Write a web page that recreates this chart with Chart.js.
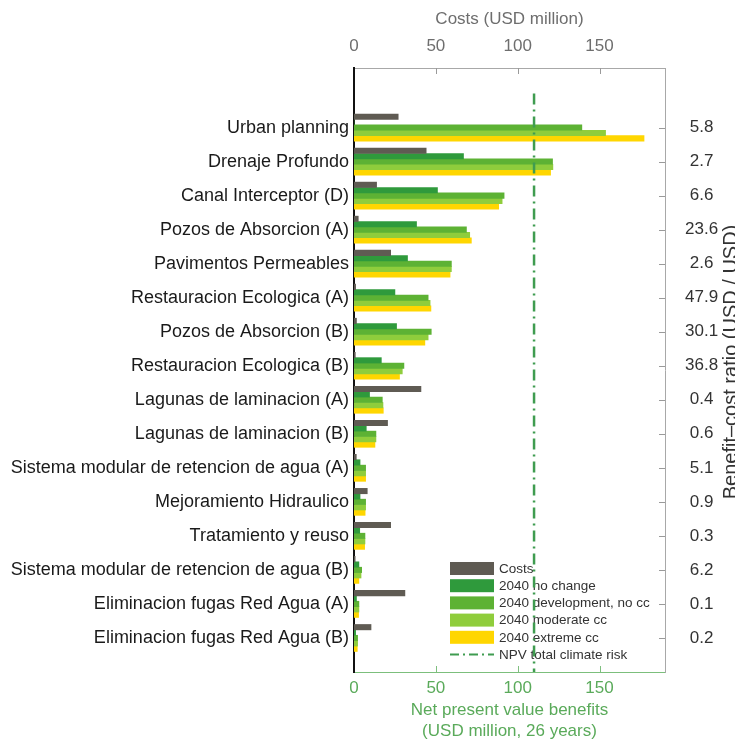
<!DOCTYPE html>
<html>
<head>
<meta charset="utf-8">
<script src="https://cdn.jsdelivr.net/npm/chart.js@4.4.0/dist/chart.umd.min.js"></script>
<style>
  html, body { margin: 0; padding: 0; background: #ffffff; }
  #wrap { width: 735px; height: 740px; position: relative; }
</style>
</head>
<body>
<div id="wrap"><canvas id="c" width="735" height="740"></canvas></div>
<script>
// ---------------- data ----------------
const categories = [
  'Urban planning',
  'Drenaje Profundo',
  'Canal Interceptor (D)',
  'Pozos de Absorcion (A)',
  'Pavimentos Permeables',
  'Restauracion Ecologica (A)',
  'Pozos de Absorcion (B)',
  'Restauracion Ecologica (B)',
  'Lagunas de laminacion (A)',
  'Lagunas de laminacion (B)',
  'Sistema modular de retencion de agua (A)',
  'Mejoramiento Hidraulico',
  'Tratamiento y reuso',
  'Sistema modular de retencion de agua (B)',
  'Eliminacion fugas Red Agua (A)',
  'Eliminacion fugas Red Agua (B)'
];
const costs        = [27.0, 44.1, 13.8, 2.6, 22.4, 1.0, 1.5, 0.8, 40.9, 20.5, 1.4, 8.1, 22.4, 0.7, 31.1, 10.4];
const noChange     = [0.0, 66.9, 51.0, 38.2, 32.7, 25.0, 26.0, 16.7, 9.5, 7.5, 3.7, 3.7, 3.5, 3.0, 1.5, 1.0];
const development  = [139.2, 121.3, 91.7, 68.7, 59.5, 45.3, 47.2, 30.5, 17.3, 13.4, 7.1, 7.1, 6.7, 4.7, 3.0, 2.2];
const moderateCC   = [153.7, 121.5, 90.5, 70.7, 59.5, 46.5, 45.3, 29.5, 17.7, 13.4, 7.1, 7.1, 6.7, 4.3, 3.0, 2.2];
const extremeCC    = [177.2, 120.1, 88.4, 71.7, 58.7, 47.0, 43.3, 27.8, 17.9, 12.8, 7.1, 6.8, 6.5, 3.0, 2.8, 2.0];
const bcRatio      = ['5.8','2.7','6.6','23.6','2.6','47.9','30.1','36.8','0.4','0.6','5.1','0.9','0.3','6.2','0.1','0.2'];
const npvTotalClimateRisk = 110;
const xTicks = [0, 50, 100, 150];
const seriesNames = ['Costs', '2040 no change', '2040 development, no cc', '2040 moderate cc', '2040 extreme cc'];
const npvName = 'NPV total climate risk';

// ---------------- styles ----------------
const FONT = "'Liberation Sans', Arial, Helvetica, sans-serif";
const colors = ['#5f5b53', '#2f9a3c', '#5db234', '#8fcd3c', '#ffd600'];
const GREEN_TEXT = '#5aaa5a';
const GRAY_TEXT = '#6e6e6e';
const NPV_COLOR = '#3f9c50';
const N = categories.length;
const posOf = i => N - i;            // category slot on the index axis
const Y_MAX = 17.75;
const NPV_TOP = 17;

const seriesValues = [costs, noChange, development, moderateCC, extremeCC];
const datasets = seriesValues.map((vals, k) => ({
  label: seriesNames[k],
  data: vals.map((v, i) => ({ x: v, y: posOf(i) })),
  backgroundColor: colors[k],
  borderWidth: 0,
  barThickness: 5.4,
  xAxisID: 'x',
  yAxisID: 'y'
}));

// custom drawing: inward ticks, NPV line, legend, right title
const extras = {
  id: 'extras',
  afterDatasetsDraw(chart) {
    const ctx = chart.ctx;
    const xs = chart.scales.x, ys = chart.scales.y;
    const area = chart.chartArea;
    ctx.save();
    // inward ticks top (gray) and bottom (green)
    ctx.lineWidth = 1;
    xTicks.forEach(t => {
      if (t === 0) return;
      const px = Math.round(xs.getPixelForValue(t)) + 0.5;
      ctx.strokeStyle = '#9a9a9a';
      ctx.beginPath(); ctx.moveTo(px, area.top); ctx.lineTo(px, area.top + 6); ctx.stroke();
      ctx.strokeStyle = '#7fbf7f';
      ctx.beginPath(); ctx.moveTo(px, area.bottom); ctx.lineTo(px, area.bottom - 6); ctx.stroke();
    });
    // right inward ticks
    ctx.strokeStyle = '#9a9a9a';
    categories.forEach((c, i) => {
      const py = Math.round(ys.getPixelForValue(posOf(i))) + 0.5;
      ctx.beginPath(); ctx.moveTo(area.right, py); ctx.lineTo(area.right - 6, py); ctx.stroke();
    });

    // legend
    const lx = 450, lw = 44, lh = 13, ly0 = 568.5, step = 17.2;
    ctx.font = '13.5px ' + FONT;
    ctx.textBaseline = 'middle';
    ctx.textAlign = 'left';
    seriesNames.forEach((name, k) => {
      const cy = ly0 + k * step;
      ctx.fillStyle = colors[k];
      ctx.fillRect(lx, cy - lh / 2, lw, lh);
      ctx.fillStyle = '#333333';
      ctx.fillText(name, lx + lw + 5, cy + 0.5);
    });
    const ny = ly0 + 5 * step;
    ctx.strokeStyle = NPV_COLOR;
    ctx.lineWidth = 2;
    ctx.setLineDash([9, 4, 2, 4]);
    ctx.beginPath(); ctx.moveTo(lx, ny); ctx.lineTo(lx + lw, ny); ctx.stroke();
    ctx.fillStyle = '#333333';
    ctx.fillText(npvName, lx + lw + 5, ny + 0.5);

    // NPV vertical line
    const vx = xs.getPixelForValue(npvTotalClimateRisk);
    ctx.lineWidth = 2.5;
    ctx.setLineDash([11, 5, 2, 5]);
    ctx.beginPath();
    ctx.moveTo(vx, ys.getPixelForValue(NPV_TOP));
    ctx.lineTo(vx, ys.getPixelForValue(0));
    ctx.stroke();
    ctx.setLineDash([]);

    // right rotated title
    ctx.translate(737, 362);
    ctx.rotate(-Math.PI / 2);
    ctx.font = '20px ' + FONT;
    ctx.textAlign = 'center';
    ctx.textBaseline = 'alphabetic';
    ctx.fillStyle = '#333333';
    ctx.fillText('Benefit\u2013cost ratio (USD / USD)', 0, 0);
    ctx.restore();
  }
};

new Chart(document.getElementById('c'), {
  type: 'bar',
  data: { datasets },
  plugins: [extras],
  options: {
    indexAxis: 'y',
    responsive: false,
    animation: false,
    devicePixelRatio: 1,
    layout: { padding: 0 },
    plugins: { legend: { display: false }, tooltip: { enabled: false } },
    scales: {
      x: {
        type: 'linear', position: 'bottom', min: 0, max: 190, offset: false,
        afterBuildTicks: s => { s.ticks = xTicks.map(v => ({ value: v })); },
        grid: { display: false, drawTicks: false },
        border: { display: true, color: '#7cbf7c', width: 1 },
        ticks: { color: GREEN_TEXT, font: { family: FONT, size: 17 }, padding: 6 },
        title: { display: true, text: ['Net present value benefits', '(USD million, 26 years)'],
                 color: GREEN_TEXT, font: { family: FONT, size: 17, lineHeight: '21px' }, padding: { top: 0, bottom: -1.5 } },
        afterFit: s => { s.height = 68; }
      },
      x2: {
        type: 'linear', position: 'top', min: 0, max: 190, offset: false,
        afterBuildTicks: s => { s.ticks = xTicks.map(v => ({ value: v })); },
        grid: { display: false, drawTicks: false },
        border: { display: true, color: '#a8a8a8', width: 1 },
        ticks: { color: GRAY_TEXT, font: { family: FONT, size: 17 }, padding: 11 },
        title: { display: true, text: 'Costs (USD million)', color: GRAY_TEXT,
                 font: { family: FONT, size: 17 }, padding: { top: 9, bottom: 0 } },
        afterFit: s => { s.height = 68; }
      },
      y: {
        type: 'linear', position: 'left', min: 0, max: Y_MAX, offset: false,
        afterBuildTicks: s => { s.ticks = categories.map((c, i) => ({ value: posOf(i) })); },
        grid: { display: false, drawTicks: false },
        border: { display: true, color: '#111111', width: 2 },
        ticks: { autoSkip: false, color: '#1a1a1a', font: { family: FONT, size: 18 }, padding: 5,
                 callback: v => categories[N - v] },
        afterFit: s => { s.width = 354; }
      },
      y2: {
        type: 'linear', position: 'right', min: 0, max: Y_MAX, offset: false,
        afterBuildTicks: s => { s.ticks = bcRatio.map((r, i) => ({ value: posOf(i) })); },
        grid: { display: false, drawTicks: false },
        border: { display: true, color: '#a8a8a8', width: 1 },
        ticks: { autoSkip: false, color: '#333333', font: { family: FONT, size: 17 }, padding: 20,
                 crossAlign: 'center', callback: v => bcRatio[N - v] },
        afterFit: s => { s.width = 70; }
      }
    }
  }
});
</script>
</body>
</html>
